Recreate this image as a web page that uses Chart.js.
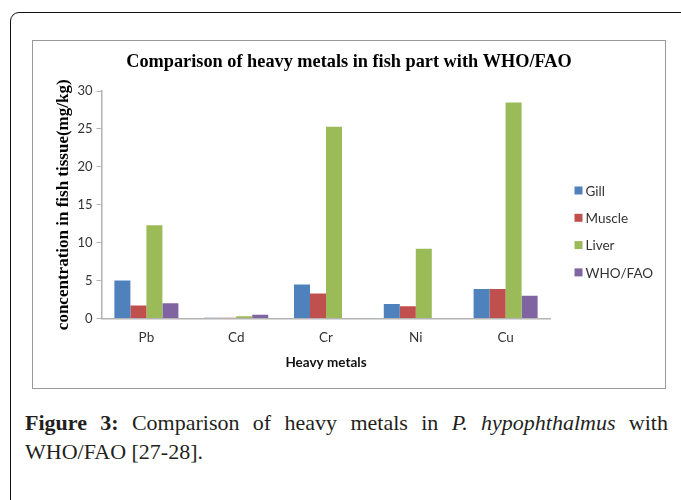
<!DOCTYPE html>
<html>
<head>
<meta charset="utf-8">
<script src="https://cdn.jsdelivr.net/npm/chart.js@4.4.1/dist/chart.umd.min.js"></script>
<style>
    html, body { margin: 0; padding: 0; background: #fff; width: 681px; height: 500px; overflow: hidden; }
    #frame { position: absolute; left: 10px; top: 12px; width: 730px; height: 560px; border: 1.5px solid #111; border-radius: 9px; }
    #chart-box { position: absolute; left: 32px; top: 40px; width: 632px; height: 347px; border: 1.5px solid #9a9a9a; }
    #chart-box canvas { position: absolute; left: 0; top: 0; }
    .caption { position: absolute; left: 25px; width: 643px; font-family: 'Liberation Serif', 'Times New Roman', serif; font-size: 22px; line-height: 29px; color: #231f20; white-space: nowrap; }
    .caption.first { top: 408px; text-align: justify; text-align-last: justify; white-space: normal; }
    .caption.second { top: 437px; }
    .caption b { font-weight: bold; }
</style>
</head>
<body>
<div id="frame"></div>
<div id="chart-box"><canvas id="metals-chart" width="632" height="347"></canvas></div>
<div class="caption first"><b>Figure 3:</b> Comparison of heavy metals in <i>P. hypophthalmus</i> with</div>
<div class="caption second">WHO/FAO [27-28].</div>

<script>
// data (mg/kg)
const metals = ['Pb', 'Cd', 'Cr', 'Ni', 'Cu'];
const gill = [5.0, 0.1, 4.5, 1.9, 3.9];
const muscle = [1.7, 0.1, 3.3, 1.6, 3.9];
const liver = [12.3, 0.3, 25.3, 9.2, 28.5];
const whoFao = [2.0, 0.5, 0, 0, 3.0];
const seriesNames = ['Gill', 'Muscle', 'Liver', 'WHO/FAO'];
const seriesColors = ['#4F81BD', '#C0504D', '#9BBB59', '#8064A2'];
const yTicks = [0, 5, 10, 15, 20, 25, 30];

const chartTitle = 'Comparison of heavy metals in fish part with WHO/FAO';
const axisGray = '#b3b3b3';

// title across the whole box + legend on the right side
const headerAndLegend = {
    id: 'headerAndLegend',
    afterDraw(chart) {
        const ctx = chart.ctx;
        ctx.save();
        ctx.fillStyle = '#000';
        ctx.font = 'bold 18.3px "Liberation Serif", serif';
        ctx.textAlign = 'center';
        ctx.textBaseline = 'middle';
        ctx.fillText(chartTitle, chart.width / 2, 21);

        const x = chart.chartArea.right + 24;
        let y = 149.5;
        ctx.font = '13.5px Lato, sans-serif';
        ctx.textAlign = 'left';
        chart.data.datasets.forEach(ds => {
            ctx.fillStyle = ds.backgroundColor;
            ctx.fillRect(x, y - 4, 8, 8);
            ctx.fillStyle = '#333';
            ctx.fillText(ds.label, x + 11, y + 1);
            y += 27.3;
        });
        ctx.restore();
    }
};

const seriesData = [gill, muscle, liver, whoFao];

new Chart(document.getElementById('metals-chart'), {
    type: 'bar',
    data: {
        labels: metals,
        datasets: seriesNames.map((name, i) => ({
            label: name,
            data: seriesData[i],
            backgroundColor: seriesColors[i],
            borderWidth: 0,
            categoryPercentage: 0.713,
            barPercentage: 1.0
        }))
    },
    options: {
        responsive: false,
        animation: false,
        layout: { padding: { top: 50, right: 114.5, bottom: 0, left: 0 } },
        plugins: {
            legend: { display: false },
            title: { display: false },
            tooltip: { enabled: false }
        },
        scales: {
            x: {
                grid: { display: false, drawTicks: false },
                border: { display: true, color: axisGray, width: 1.5 },
                ticks: { color: '#333', font: { family: 'Lato', size: 13.5 }, padding: 11 },
                title: {
                    display: true,
                    text: 'Heavy metals',
                    color: '#111',
                    font: { family: 'Lato', size: 13.5, weight: 'bold' },
                    padding: { top: 0, bottom: 17 }
                },
                afterFit(scale) { scale.height = 69.5; }
            },
            y: {
                min: yTicks[0],
                max: yTicks[yTicks.length - 1],
                ticks: { stepSize: yTicks[1] - yTicks[0], color: '#333', font: { family: 'Lato', size: 13 }, padding: 4 },
                grid: { drawOnChartArea: false, drawTicks: true, tickLength: 5, color: axisGray },
                border: { display: true, color: axisGray, width: 1.5 },
                title: {
                    display: true,
                    text: 'concentration in fish tissue(mg/kg)',
                    color: '#000',
                    font: { family: 'Liberation Serif', size: 17, weight: 'bold' },
                    padding: { top: 20, bottom: 0 }
                },
                afterFit(scale) { scale.width = 68.5; }
            }
        }
    },
    plugins: [headerAndLegend]
});
</script>
</body>
</html>
